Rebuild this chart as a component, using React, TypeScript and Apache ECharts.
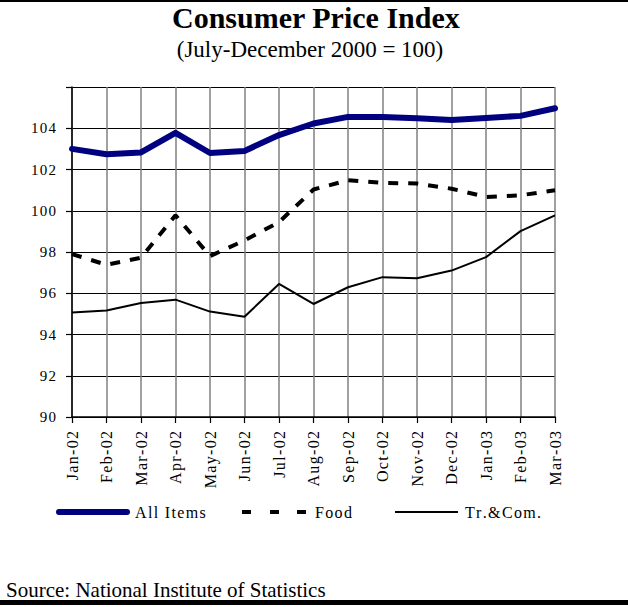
import React, { useEffect, useRef } from "react";
import * as echarts from "echarts";

const categories = ["Jan-02","Feb-02","Mar-02","Apr-02","May-02","Jun-02","Jul-02","Aug-02","Sep-02","Oct-02","Nov-02","Dec-02","Jan-03","Feb-03","Mar-03"];
const allItems = [103.0,102.74,102.83,103.78,102.8,102.9,103.67,104.23,104.55,104.55,104.48,104.4,104.5,104.6,104.97];
const food = [97.9,97.38,97.72,99.78,97.8,98.56,99.45,101.03,101.48,101.35,101.32,101.07,100.67,100.75,100.99];
const trCom = [95.07,95.16,95.53,95.69,95.11,94.86,96.45,95.48,96.29,96.78,96.73,97.1,97.75,99.01,99.78];
const yTicks = [90,92,94,96,98,100,102,104];

const SERIF = "'Liberation Serif', 'Times New Roman', serif";
const spaced = (s: string) => s.split("").join("\u200A");

export default function App() {
  const ref = useRef<HTMLDivElement>(null);
  useEffect(() => {
    const chart = echarts.init(ref.current!, null, { renderer: "svg" });
    const legendText = { fontFamily: SERIF, fontSize: 16, color: "#000" };
    chart.setOption({
      animation: false,
      backgroundColor: "#fff",
      grid: { left: 72, right: 73, top: 87, bottom: 190 },
      legend: [
        {
          data: ["All Items"], left: 56, top: 504, padding: 0, itemWidth: 74, itemHeight: 6,
          icon: "path://M3,0H71A3,3 0 0 1 71,6H3A3,3 0 0 1 3,0Z",
          formatter: spaced, textStyle: { ...legendText },
        },
        {
          data: ["Food"], left: 242, top: 504, padding: 0, itemWidth: 64, itemHeight: 4,
          icon: "path://M0,0h9v4h-9zM28,0h9v4h-9zM55,0h9v4h-9z",
          formatter: spaced, textStyle: { ...legendText, padding: [0, 0, 0, 4] },
        },
        {
          data: ["Tr.&Com."], left: 395, top: 504, padding: 0, itemWidth: 63, itemHeight: 2,
          icon: "path://M0,0H63V2H0Z",
          formatter: spaced, textStyle: { ...legendText, padding: [0, 0, 0, 2] },
        },
      ],
      xAxis: {
        type: "category",
        data: categories,
        boundaryGap: false,
        axisLine: { lineStyle: { color: "#000", width: 1.5 } },
        axisTick: { show: true, length: 6, lineStyle: { color: "#000", width: 1.2 } },
        axisLabel: { rotate: 90, fontFamily: SERIF, fontSize: 16, color: "#000", margin: 14, formatter: spaced },
        splitLine: { show: true, lineStyle: { color: "#808080", width: 1.5 } },
      },
      yAxis: {
        type: "value",
        min: 90,
        max: 106,
        interval: 2,
        axisLine: { show: true, lineStyle: { color: "#000", width: 1.5 } },
        axisTick: { show: true, length: 6, lineStyle: { color: "#000", width: 1.2 } },
        axisLabel: {
          fontFamily: SERIF, fontSize: 15, color: "#000", margin: 16,
          formatter: (v: number) => (yTicks.includes(v) ? spaced(String(v)) : ""),
        },
        splitLine: { show: true, lineStyle: { color: "#000", width: 1.2 } },
      },
      series: [
        { name: "All Items", type: "line", data: allItems, symbol: "none", color: "#000080", lineStyle: { color: "#000080", width: 6, cap: "round", join: "round" } },
        { name: "Food", type: "line", data: food, symbol: "none", color: "#000", lineStyle: { color: "#000", width: 4, type: [10, 10] } },
        { name: "Tr.&Com.", type: "line", data: trCom, symbol: "none", color: "#000", lineStyle: { color: "#000", width: 2 } },
      ],
      graphic: [
        { type: "rect", shape: { x: 0, y: 0, width: 628, height: 2 }, style: { fill: "#000" } },
        { type: "text", x: 172, y: 17, style: { text: "Consumer Price Index", font: `bold 30px ${SERIF}`, fill: "#000", textAlign: "left", textVerticalAlign: "middle" } },
        { type: "text", x: 310, y: 49, style: { text: "(July-December 2000 = 100)", font: `23px ${SERIF}`, fill: "#000", textAlign: "center", textVerticalAlign: "middle" } },
        { type: "text", x: 6, y: 590, style: { text: "Source: National Institute of Statistics", font: `21px ${SERIF}`, fill: "#000", textVerticalAlign: "middle" } },
        { type: "rect", shape: { x: 0, y: 600, width: 628, height: 5 }, style: { fill: "#000" } },
      ],
    });
    return () => chart.dispose();
  }, []);
  return <div ref={ref} style={{ width: 628, height: 607, position: "absolute", left: 0, top: 0 }} />;
}
